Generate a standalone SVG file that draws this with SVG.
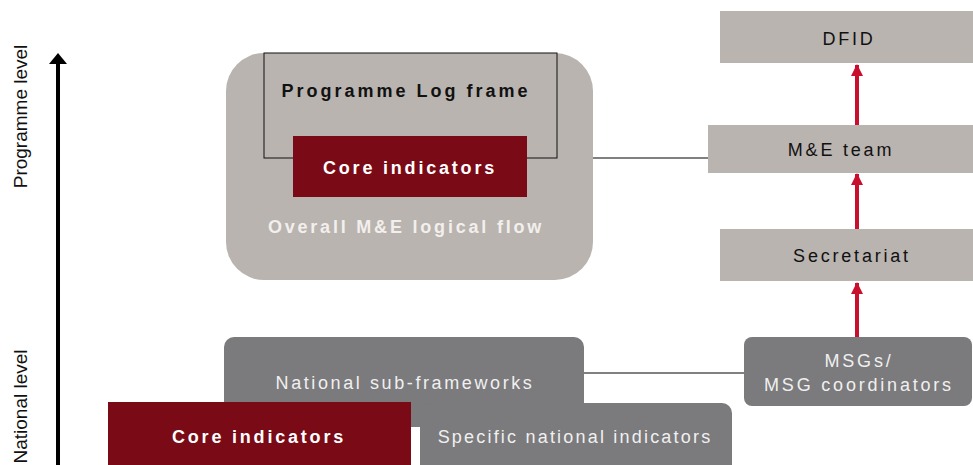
<svg xmlns="http://www.w3.org/2000/svg" width="973" height="465" viewBox="0 0 973 465">
<style>
text{font-family:"Liberation Sans",Arial,sans-serif;font-size:18px;text-anchor:middle}
.b{font-weight:bold}
.ls{letter-spacing:2.8px}
.lg{fill:#b9b4b0}
.dg{fill:#7b7a7c}
.rd{fill:#7a0a16}
.w{fill:#ffffff}
.k{fill:#111111}
.conn{stroke:#808080;stroke-width:2;fill:none}
.ra{stroke:#c8102e;stroke-width:4;fill:none}
</style>
<defs>
<marker id="rh" markerWidth="14" markerHeight="12" refX="11" refY="6" orient="auto" markerUnits="userSpaceOnUse">
<path d="M0,0 L12,6 L0,12 Z" fill="#c8102e"/>
</marker>
</defs>
<g id="axis">
<line x1="58" y1="465" x2="58" y2="62" stroke="#000" stroke-width="4"/>
<path d="M49,64 L58,53 L67,64 Z" fill="#000"/>
<text transform="translate(27,116.5) rotate(-90)" style="font-size:19px" class="k">Programme level</text>
<text transform="translate(27,406.5) rotate(-90)" style="font-size:19px" class="k">National level</text>
</g>
<g id="connectors">
<line class="conn" x1="593" y1="158" x2="708" y2="158"/>
<line class="conn" x1="584" y1="373" x2="744" y2="373"/>
<line class="ra" x1="857" y1="125" x2="857" y2="65" marker-end="url(#rh)"/>
<line class="ra" x1="857" y1="229" x2="857" y2="174" marker-end="url(#rh)"/>
<line class="ra" x1="857" y1="337" x2="857" y2="283" marker-end="url(#rh)"/>
</g>
<g id="overall">
<rect class="lg" x="226" y="53" width="367" height="227" rx="38"/>
<text class="b ls" x="406" y="233" fill="#f2efec">Overall M&amp;E logical flow</text>
</g>
<g id="logframe">
<rect x="264" y="53" width="293" height="105" fill="none" stroke="#111" stroke-width="1"/>
<text class="b k" x="406" y="97" style="letter-spacing:3px">Programme Log frame</text>
</g>
<g id="core-top">
<rect class="rd" x="293" y="136" width="234" height="61"/>
<text class="b ls w" x="410" y="174">Core indicators</text>
</g>
<g id="dfid">
<rect class="lg" x="720" y="11" width="253" height="52"/>
<text class="ls k" x="849" y="45">DFID</text>
</g>
<g id="me-team">
<rect class="lg" x="708" y="125" width="265" height="48"/>
<text class="ls k" x="841" y="156">M&amp;E team</text>
</g>
<g id="secretariat">
<rect class="lg" x="720" y="229" width="253" height="52"/>
<text class="ls k" x="852" y="262">Secretariat</text>
</g>
<g id="msgs">
<rect class="dg" x="744" y="337" width="228" height="69" rx="8"/>
<text class="ls" x="859" y="367" fill="#f0f0f0">MSGs/</text>
<text class="ls" x="859" y="391" fill="#f0f0f0">MSG coordinators</text>
</g>
<g id="national-sub">
<rect class="dg" x="224" y="337" width="360" height="90" rx="10"/>
<text x="405" y="389" fill="#f0f0f0" style="letter-spacing:2.6px">National sub-frameworks</text>
</g>
<g id="core-bottom">
<rect class="rd" x="108" y="402" width="303" height="63"/>
<text class="b ls w" x="259" y="443">Core indicators</text>
</g>
<g id="specific">
<rect class="dg" x="420" y="403" width="312" height="72" rx="10"/>
<text x="575" y="443" fill="#f0f0f0" style="letter-spacing:2.2px">Specific national indicators</text>
</g>
</svg>
